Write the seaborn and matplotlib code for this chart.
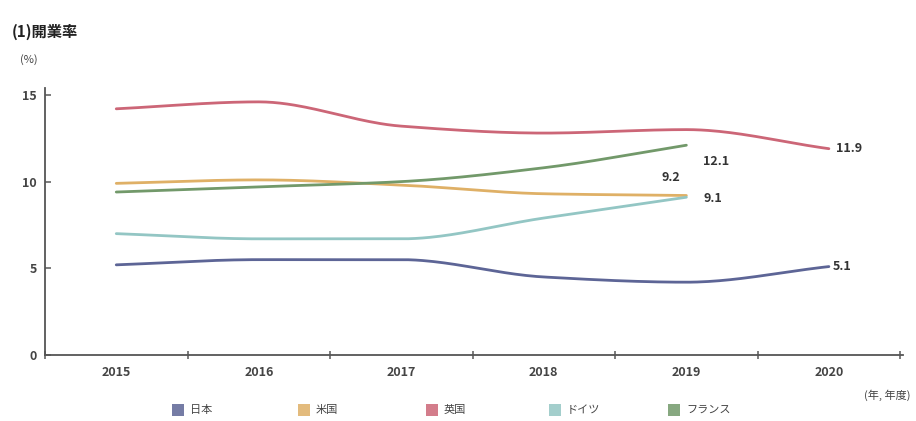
import numpy as np
import pandas as pd
import matplotlib
matplotlib.use("Agg")
import matplotlib.pyplot as plt
from matplotlib.patches import Rectangle
import seaborn as sns

# Business opening rate by country (%)
years = ["2015", "2016", "2017", "2018", "2019", "2020"]
countries = ["日本", "米国", "英国", "ドイツ", "フランス"]
japan = [5.2, 5.5, 5.5, 4.5, 4.2, 5.1]
usa = [9.9, 10.1, 9.8, 9.3, 9.2]
uk = [14.2, 14.6, 13.2, 12.8, 13.0, 11.9]
germany = [7.0, 6.7, 6.7, 7.9, 9.1]
france = [9.4, 9.7, 10.0, 10.8, 12.1]
series = [japan, usa, uk, germany, france]
colors = ["#5d6596", "#dfb066", "#cc6677", "#93c6c4", "#72996a"]
y_ticks = [0, 5, 10, 15]


def smooth_curve(x, y, n=40):
    """Monotone cubic Hermite path through the given points (for drawing)."""
    x = np.asarray(x, float)
    y = np.asarray(y, float)
    h = np.diff(x)
    d = np.diff(y) / h
    m = np.zeros_like(y)
    m[0], m[-1] = d[0], d[-1]
    for i in range(1, len(y) - 1):
        if d[i - 1] * d[i] <= 0:
            m[i] = 0.0
        else:
            m[i] = 2.0 / (1.0 / d[i - 1] + 1.0 / d[i])
    xs, ys = [], []
    for i in range(len(x) - 1):
        t = np.linspace(0, 1, n, endpoint=(i == len(x) - 2))
        h00 = 2 * t**3 - 3 * t**2 + 1
        h10 = t**3 - 2 * t**2 + t
        h01 = -2 * t**3 + 3 * t**2
        h11 = t**3 - t**2
        xs.append(x[i] + t * h[i])
        ys.append(h00 * y[i] + h10 * h[i] * m[i] + h01 * y[i + 1] + h11 * h[i] * m[i + 1])
    return np.concatenate(xs), np.concatenate(ys)


sns.set_theme(style="white")
plt.rcParams["font.family"] = ["Noto Sans CJK JP", "DejaVu Sans"]

fig = plt.figure(figsize=(9.16, 4.21), dpi=100)
ax = fig.add_axes([45 / 916, 66 / 421, 858 / 916, 267 / 421])

frames = []
for name, vals in zip(countries, series):
    cx, cy = smooth_curve(np.arange(len(vals)), vals)
    frames.append(pd.DataFrame({"x": cx, "rate": cy, "country": name}))
curves = pd.concat(frames, ignore_index=True)

sns.lineplot(data=curves, x="x", y="rate", hue="country", hue_order=countries,
             palette=colors, linewidth=2.0, sort=False, estimator=None,
             legend=False, ax=ax)

ax.set_xlim(-0.5, 5.52)
ax.set_ylim(0, 15.4)
ax.set_xticks(range(len(years)))
ax.set_xticklabels(years, fontsize=9, color="#444444", fontweight="bold")
ax.set_xticks(np.arange(-0.5, 5.6, 1.0), minor=True)
ax.set_yticks(y_ticks)
ax.set_yticklabels([str(v) for v in y_ticks], fontsize=9, color="#444444",
                   fontweight="bold")
ax.tick_params(axis="x", which="major", bottom=True, length=0, pad=8)
ax.tick_params(axis="x", which="minor", bottom=True, length=6, width=1.2,
               direction="inout", color="#666666")
ax.tick_params(axis="y", which="major", left=True, length=4, width=1.2,
               direction="in", color="#666666", pad=6)
ax.set_xlabel("")
ax.set_ylabel("")
for side in ["top", "right"]:
    ax.spines[side].set_visible(False)
for side in ["left", "bottom"]:
    ax.spines[side].set_color("#555555")
    ax.spines[side].set_linewidth(1.3)

# end-of-line value labels
label_style = dict(fontsize=9, fontweight="bold", color="#333333",
                   textcoords="offset points")
ax.annotate(f"{uk[-1]:.1f}", (len(uk) - 1, uk[-1]), xytext=(5, 0),
            ha="left", va="center", **label_style)
ax.annotate(f"{japan[-1]:.1f}", (len(japan) - 1, japan[-1]), xytext=(3, 0),
            ha="left", va="center", **label_style)
ax.annotate(f"{france[-1]:.1f}", (len(france) - 1, france[-1]), xytext=(12, -12),
            ha="left", va="center", **label_style)
ax.annotate(f"{usa[-1]:.1f}", (len(usa) - 1, usa[-1]), xytext=(-11, 13),
            ha="center", va="center", **label_style)
ax.annotate(f"{germany[-1]:.1f}", (len(germany) - 1, germany[-1]), xytext=(12, -1),
            ha="left", va="center", **label_style)

fig.text(12 / 916, 1 - 32 / 421, "(1)開業率", fontsize=11, fontweight="bold",
         color="#222222", va="center", ha="left")
fig.text(20 / 916, 1 - 60 / 421, "(%)", fontsize=8, color="#444444",
         va="center", ha="left")
fig.text(910 / 916, 1 - 395 / 421, "(年, 年度)", fontsize=8, color="#444444",
         va="center", ha="right")

# legend row
leg_x = [172, 298, 426, 549, 668]
for x0, name, col in zip(leg_x, countries, colors):
    fig.patches.append(Rectangle((x0 / 916, 1 - 416 / 421), 12 / 916, 12 / 421,
                                 transform=fig.transFigure, facecolor=col,
                                 edgecolor="none", alpha=0.85))
    fig.text((x0 + 18) / 916, 1 - 410 / 421, name, fontsize=8, color="#444444",
             va="center", ha="left")

fig.savefig("out.png", dpi=100)
